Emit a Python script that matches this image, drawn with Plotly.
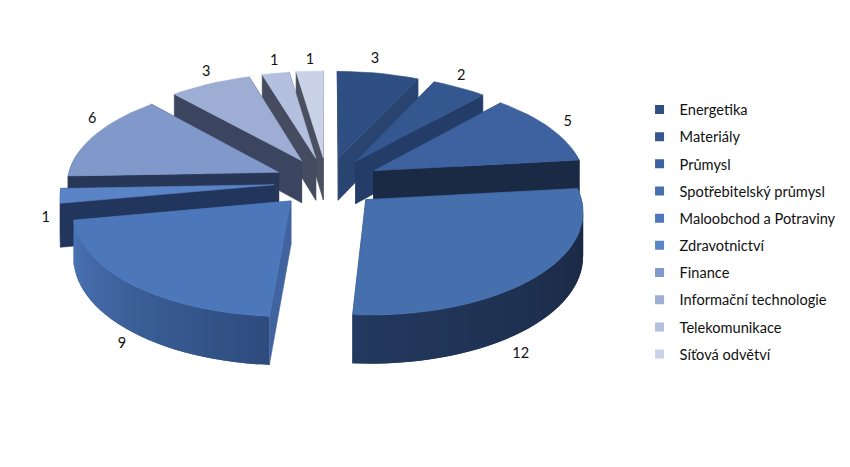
import math
import plotly.graph_objects as go

categories = ["Energetika", "Materiály", "Průmysl", "Spotřebitelský průmysl", "Maloobchod a Potraviny",
              "Zdravotnictví", "Finance", "Informační technologie", "Telekomunikace", "Síťová odvětví"]
values = [3, 2, 5, 12, 9, 1, 6, 3, 1, 1]
top_colors = ["#2f4f82", "#34578f", "#3d629f", "#466fae", "#4c77bb", "#5b84c6", "#8198ca", "#9dadd4", "#b4c0dd", "#c9d2e7"]
side_colors = ["#2a4472", "#243c68", "#1b2a44", "#263e69", "#41639f", "#22355c", "#283757", "#3b4560", "#454c60", "#4b5060"]
wall_start = ["#2a4472", "#243c68", "#1b2a44", "#18263f", "#2e4c7e", "#22355c", "#283757", "#3b4560", "#454c60", "#4b5060"]
wall_end = ["#2a4472", "#243c68", "#1b2a44", "#24395f", "#4a73b4", "#22355c", "#283757", "#3b4560", "#454c60", "#4b5060"]
label_nudge = [(-6, -8), (-5, -6), (6, -3), (-28, 3), (2, -15), (1, 22), (10, -14), (2, -6), (1, -6), (1, -5)]

CX, CY, AX, AY, PERSP, DEPTH, EXPLODE = 319, 174, 212, 100, 0.10, 43, 0.25


def project(u, v, down=0.0):
    s = 1 / (1 + PERSP * v)
    return CX + AX * u * s, CY - AY * v * s + down * s


def blend(c1, c2, t):
    a = [int(c1[i:i + 2], 16) for i in (1, 3, 5)]
    b = [int(c2[i:i + 2], 16) for i in (1, 3, 5)]
    return "#%02x%02x%02x" % tuple(round(p + (q - p) * t) for p, q in zip(a, b))


def poly(fig, pts, color, edge=0.6):
    xs = [p[0] for p in pts] + [pts[0][0]]
    ys = [p[1] for p in pts] + [pts[0][1]]
    fig.add_trace(go.Scatter(x=xs, y=ys, mode="lines", fill="toself", fillcolor=color,
                             line=dict(color=color, width=edge), showlegend=False, hoverinfo="skip"))


total = sum(values)
slices = []
acc = 0
for i, val in enumerate(values):
    a0 = acc / total * 2 * math.pi
    acc += val
    a1 = acc / total * 2 * math.pi
    slices.append((i, a0, a1, (a0 + a1) / 2))

fig = go.Figure()
for i, a0, a1, m in sorted(slices, key=lambda s: -math.cos(s[3])):
    ou, ov = EXPLODE * math.sin(m), EXPLODE * math.cos(m)
    n = max(4, int((a1 - a0) * 22))
    angles = [a0 + (a1 - a0) * k / n for k in range(n + 1)]
    ground = [(ou + math.sin(t), ov + math.cos(t)) for t in angles]
    tip = (ou, ov)
    for edge in (ground[0], ground[-1]):
        poly(fig, [project(*tip), project(*edge), project(*edge, DEPTH), project(*tip, DEPTH)], side_colors[i])
    for k in range(n):
        tm = (angles[k] + angles[k + 1]) / 2
        if math.cos(tm) < 0.2:
            g0, g1 = ground[k], ground[min(k + 2, n)]
            poly(fig, [project(*g0), project(*g1), project(*g1, DEPTH), project(*g0, DEPTH)],
                 blend(wall_start[i], wall_end[i], k / max(1, n - 1)), edge=0)
    poly(fig, [project(*tip)] + [project(*g) for g in ground], top_colors[i])

# data labels, placed just outside each slice
lx, ly = [], []
for i, a0, a1, m in slices:
    r = 1.07 + EXPLODE
    down = 62 if math.cos(m) < -0.4 else 0
    x, y = project(r * math.sin(m), r * math.cos(m), down)
    lx.append(x + label_nudge[i][0])
    ly.append(y + label_nudge[i][1])
fig.add_trace(go.Scatter(x=lx, y=ly, mode="text", text=[str(v) for v in values],
                         textfont=dict(family="Lato", size=14.5, color="#111111"),
                         showlegend=False, hoverinfo="skip"))

for i, name in enumerate(categories):
    fig.add_trace(go.Scatter(x=[None], y=[None], mode="markers", name=name, legendgroup=name,
                             marker=dict(symbol="square", size=9, color=top_colors[i])))

fig.update_layout(
    width=850, height=467, margin=dict(l=0, r=0, t=0, b=0),
    paper_bgcolor="white", plot_bgcolor="white",
    xaxis=dict(range=[0, 850], visible=False, fixedrange=True),
    yaxis=dict(range=[467, 0], visible=False, fixedrange=True),
    legend=dict(x=0.743, y=0.817, xanchor="left", yanchor="top", tracegroupgap=5.2,
                font=dict(family="Lato", size=14.6, color="#111111"), bgcolor="rgba(0,0,0,0)"),
)
fig.write_html("out.html")
